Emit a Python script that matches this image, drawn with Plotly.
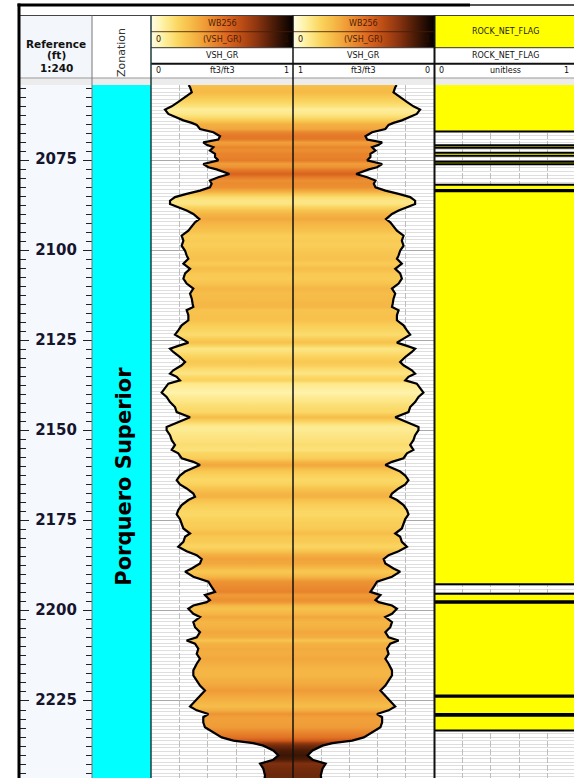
import plotly.graph_objects as go

# ---------------- data ----------------
depth = [2054.0, 2054.6, 2056.0, 2057.4, 2058.75, 2059.9, 2060.8, 2062.0, 2062.9, 2063.8,
         2064.5, 2065.05, 2066.2, 2067.1, 2068.2, 2069.1, 2069.9, 2070.6, 2071.25, 2072.2,
         2073.1, 2074.0, 2074.9, 2075.9, 2076.8, 2077.4, 2078.7, 2079.6, 2080.5, 2081.4,
         2082.4, 2083.3, 2084.2, 2085.1, 2086.1, 2087.0, 2087.9, 2088.8, 2089.8, 2091.2,
         2092.1, 2093.2, 2094.4, 2095.8, 2097.2, 2098.6, 2100.0, 2101.3, 2102.2, 2103.6,
         2105.0, 2106.3, 2107.7, 2109.1, 2110.5, 2111.9, 2113.3, 2114.7, 2115.6, 2116.5,
         2117.9, 2119.3, 2120.7, 2122.1, 2123.3, 2124.4, 2125.5, 2126.4, 2127.2, 2128.1,
         2129.5, 2130.9, 2131.8, 2133.2, 2134.1, 2135.0, 2136.0, 2136.9, 2138.3, 2139.4,
         2140.6, 2142.0, 2143.4, 2144.8, 2146.2, 2147.1, 2148.0, 2148.9, 2149.8, 2151.2,
         2152.6, 2153.9, 2155.3, 2156.25, 2157.6, 2158.6, 2159.5, 2160.6, 2161.3, 2162.4,
         2163.7, 2164.9, 2166.0, 2167.4, 2168.3, 2169.2, 2170.6, 2172.0, 2173.2, 2174.5,
         2175.7, 2177.1, 2178.5, 2179.4, 2180.8, 2182.2, 2183.4, 2184.5, 2185.6, 2186.8,
         2188.2, 2189.1, 2190.5, 2191.9, 2193.3, 2194.7, 2195.6, 2197.0, 2197.55, 2198.5,
         2199.4, 2200.8, 2201.7, 2203.1, 2204.5, 2205.9, 2207.3, 2208.2, 2209.1, 2210.5,
         2211.9, 2213.3, 2214.65, 2216.5, 2217.9, 2219.3, 2220.7, 2222.1, 2223.5, 2224.9,
         2226.5, 2227.6, 2228.6, 2229.5, 2230.9, 2232.3, 2233.7, 2235.1, 2236.0, 2236.7,
         2237.4, 2238.75, 2240.1, 2241.3, 2242.4, 2243.8, 2245.7, 2246.4]
vsh_gr = [0.265, 0.275, 0.287, 0.24, 0.19, 0.146, 0.099, 0.122, 0.169, 0.228,
          0.287, 0.322, 0.345, 0.439, 0.486, 0.474, 0.368, 0.392, 0.439, 0.415,
          0.451, 0.451, 0.474, 0.368, 0.404, 0.462, 0.552, 0.474, 0.415, 0.427,
          0.415, 0.345, 0.251, 0.169, 0.134, 0.134, 0.192, 0.251, 0.298, 0.34,
          0.31, 0.287, 0.263, 0.216, 0.228, 0.216, 0.24, 0.251, 0.263, 0.228,
          0.275, 0.24, 0.228, 0.251, 0.298, 0.275, 0.287, 0.293, 0.298, 0.251,
          0.263, 0.263, 0.216, 0.192, 0.169, 0.216, 0.263, 0.192, 0.134, 0.157,
          0.204, 0.24, 0.216, 0.157, 0.134, 0.181, 0.204, 0.122, 0.099, 0.075,
          0.11, 0.134, 0.169, 0.181, 0.275, 0.216, 0.157, 0.11, 0.11, 0.134,
          0.146, 0.169, 0.146, 0.192, 0.216, 0.298, 0.345, 0.275, 0.24, 0.204,
          0.181, 0.204, 0.251, 0.298, 0.31, 0.263, 0.216, 0.192, 0.181, 0.204,
          0.216, 0.228, 0.275, 0.24, 0.228, 0.192, 0.251, 0.322, 0.357, 0.345,
          0.287, 0.24, 0.298, 0.404, 0.427, 0.451, 0.38, 0.415, 0.392, 0.298,
          0.263, 0.298, 0.345, 0.298, 0.31, 0.345, 0.322, 0.251, 0.31, 0.333,
          0.322, 0.345, 0.322, 0.298, 0.298, 0.322, 0.345, 0.38, 0.345, 0.31,
          0.275, 0.322, 0.404, 0.368, 0.368, 0.38, 0.439, 0.498, 0.58, 0.72,
          0.791, 0.861, 0.897, 0.861, 0.768, 0.791, 0.803, 0.80]

flag_top = [2053.98, 2066.9, 2070.7, 2071.4, 2072.8, 2073.6, 2075.3, 2076.0, 2081.7, 2083.1,
            2083.5, 2192.6, 2195.2, 2197.3, 2197.7, 2223.5, 2223.8, 2228.6, 2229.1, 2233.2]
flag_val = [1, 0, 1, 0, 1, 0, 1, 0, 1, 0, 1, 0, 1, 0, 1, 0, 1, 0, 1, 0]

zone_names = ["Porquero Superior"]
zone_top = [2053.98]
zone_base = [2271.0]

depth_labels = [2075, 2100, 2125, 2150, 2175, 2200, 2225]
view_top, view_base = 2053.98, 2246.38

# ---------------- style helpers ----------------
W, H = 574, 778
def px(x): return x / W
def py(y): return 1 - y / H

WB256 = [[0.0, '#fffbe8'], [0.06, '#fff6b8'], [0.12, '#fde98c'], [0.2, '#fad35c'],
         [0.28, '#f6bc48'], [0.36, '#f1a23a'], [0.45, '#e8832c'], [0.55, '#d9621e'],
         [0.65, '#b74a14'], [0.75, '#8a3410'], [0.85, '#521e08'], [0.95, '#1e0a02'],
         [1.0, '#050000']]

def hex2rgb(h):
    h = h.lstrip('#')
    return [int(h[i:i + 2], 16) for i in (0, 2, 4)]

def wb_color(v):
    v = min(max(v, 0), 1)
    for (a, ca), (b, cb) in zip(WB256[:-1], WB256[1:]):
        if a <= v <= b:
            t = (v - a) / (b - a) if b > a else 0
            r1, r2 = hex2rgb(ca), hex2rgb(cb)
            c = [round(r1[k] + (r2[k] - r1[k]) * t) for k in range(3)]
            return 'rgb(%d,%d,%d)' % tuple(c)
    return WB256[-1][1]

d0, d1 = depth[0], depth[-1]
grad = [[(d - d0) / (d1 - d0), wb_color(v)] for d, v in zip(depth, vsh_gr)]
grad[0][0] = 0.0
grad[-1][0] = 1.0

DATA_DOM = [0, py(85)]
FONT = "DejaVu Sans"

fig = go.Figure()

# depth labels
fig.add_trace(go.Scatter(x=[0.5] * len(depth_labels), y=depth_labels,
                         text=['<b>%d</b>' % d for d in depth_labels], mode='text',
                         textfont=dict(family=FONT, size=15, color='#15152e'),
                         xaxis='x', yaxis='y', hoverinfo='skip', showlegend=False))

# zonation
for name, zt, zb in zip(zone_names, zone_top, zone_base):
    fig.add_trace(go.Scatter(x=[0, 1, 1, 0, 0], y=[zt, zt, zb, zb, zt], fill='toself',
                             fillcolor='#00ffff', line=dict(width=0), mode='lines',
                             xaxis='x2', yaxis='y2', hoverinfo='skip', showlegend=False))

# VSH fills and curves (track 1 and mirrored track 2)
for xa, ya in (('x3', 'y3'), ('x4', 'y4')):
    fig.add_trace(go.Scatter(x=vsh_gr + [1, 1], y=depth + [d1, d0], fill='toself',
                             fillgradient=dict(type='vertical', colorscale=grad, start=d0, stop=d1),
                             line=dict(width=0), mode='lines', xaxis=xa, yaxis=ya,
                             hoverinfo='skip', showlegend=False))
    fig.add_trace(go.Scatter(x=vsh_gr, y=depth, mode='lines',
                             line=dict(color='black', width=2.2), xaxis=xa, yaxis=ya,
                             hoverinfo='skip', showlegend=False))

# rock net flag
fx, fy = [], []
bots = flag_top[1:] + [view_base]
for t, b, v in zip(flag_top, bots, flag_val):
    fx += [v, v]
    fy += [t, b]
fig.add_trace(go.Scatter(x=fx, y=fy, fill='tozerox', fillcolor='#ffff00', mode='lines',
                         line=dict(color='black', width=2), xaxis='x5', yaxis='y5',
                         hoverinfo='skip', showlegend=False))

# header gradients
for xa in ('x6', 'x7'):
    fig.add_trace(go.Scatter(x=[0, 1, 1, 0, 0], y=[0, 0, 1, 1, 0], fill='toself',
                             fillgradient=dict(type='horizontal', colorscale=WB256, start=0, stop=1),
                             line=dict(width=0), mode='lines', xaxis=xa, yaxis='y6',
                             hoverinfo='skip', showlegend=False))

hidden_x = dict(showgrid=False, zeroline=False, showticklabels=False, ticks='', showline=False)
track_x = dict(showgrid=True, gridcolor='#bdbdbd', gridwidth=1, griddash='6px,2px', dtick=0.2,
               tick0=0, zeroline=False, showticklabels=False, ticks='', showline=False)
track_y = dict(domain=DATA_DOM, matches='y', showgrid=True, gridcolor='#a9a9a9', gridwidth=1,
               dtick=25, tick0=2075, zeroline=False, showticklabels=False, ticks='',
               minor=dict(dtick=1, tick0=2075, showgrid=True, gridcolor='#dedede', gridwidth=1))

fig.update_layout(
    width=W, height=H, autosize=False, margin=dict(l=0, r=0, t=0, b=0),
    paper_bgcolor='white', plot_bgcolor='rgba(0,0,0,0)', showlegend=False,
    xaxis=dict(domain=[px(20), px(92)], range=[0, 1], anchor='y', **hidden_x),
    yaxis=dict(domain=DATA_DOM, range=[view_base, view_top], anchor='x', side='right',
               showgrid=False, zeroline=False, showticklabels=False,
               tickmode='array', tickvals=depth_labels, ticks='inside', ticklen=9,
               tickwidth=1.3, tickcolor='#222', showline=True, linecolor='#777', linewidth=1,
               mirror='ticks',
               minor=dict(dtick=2.5, tick0=2075, ticks='inside', ticklen=6, tickwidth=1.3,
                          tickcolor='#222', showgrid=False)),
    xaxis2=dict(domain=[px(92), px(151)], range=[0, 1], anchor='y2', **hidden_x),
    yaxis2=dict(domain=DATA_DOM, matches='y', anchor='x2', showgrid=False, zeroline=False,
                showticklabels=False, ticks=''),
    xaxis3=dict(domain=[px(151), px(293)], range=[0, 1], anchor='y3', **track_x),
    yaxis3=dict(anchor='x3', **track_y),
    xaxis4=dict(domain=[px(293), px(434)], range=[1, 0], anchor='y4', **track_x),
    yaxis4=dict(anchor='x4', **track_y),
    xaxis5=dict(domain=[px(434), 1], range=[0, 140 / 142], anchor='y5', **track_x),
    yaxis5=dict(anchor='x5', **track_y),
    xaxis6=dict(domain=[px(151), px(293)], range=[0, 1], anchor='y6', **hidden_x),
    xaxis7=dict(domain=[px(293), px(434)], range=[0, 1], anchor='y6', **hidden_x),
    yaxis6=dict(domain=[py(47.7), py(16)], range=[0, 1], anchor='x6', **hidden_x),
)

shapes = []
def rect(x0, y0, x1, y1, color, layer='below', line=None):
    shapes.append(dict(type='rect', xref='paper', yref='paper', x0=px(x0), x1=px(x1),
                       y0=py(y1), y1=py(y0), fillcolor=color, layer=layer,
                       line=dict(width=0) if line is None else line))
def hline(y, x0, x1, color, w=1):
    shapes.append(dict(type='line', xref='paper', yref='paper', x0=px(x0), x1=px(x1),
                       y0=py(y), y1=py(y), line=dict(color=color, width=w), layer='above'))
def vline(x, y0, y1, color, w=1):
    shapes.append(dict(type='line', xref='paper', yref='paper', x0=px(x), x1=px(x),
                       y0=py(y0), y1=py(y1), line=dict(color=color, width=w), layer='above'))

# backgrounds
rect(20, 85, 92, 778, '#f5f8fd')
rect(20, 16, 92, 78, '#f3f6fb')
rect(435, 16, 576, 47.7, '#ffff00', layer='above')
rect(20, 78, 576, 85, '#ececec', layer='above')

# header lines
hline(15.5, 20, 574, '#444', 1)
hline(31.7, 151, 434, 'rgba(70,30,5,0.85)', 1)
hline(47.7, 151, 574, '#333', 1)
hline(63.7, 151, 574, '#111', 2)
hline(78, 20, 574, '#999', 1)
# separators
vline(92, 15.5, 778, '#777', 1)
vline(151, 15.5, 778, '#1e3c3c', 1.5)
vline(293, 15.5, 778, '#111', 1.5)
vline(434.5, 15.5, 778, '#111', 2)
# outer frame
hline(5, 17.5, 470, '#000', 3)
hline(5, 470, 574, '#555', 2)
vline(19, 3.5, 778, '#000', 3)

fig.update_layout(shapes=shapes)

ann = []
def txt(x, y, s, size=8, color='#111', bold=False, angle=0, anchor='center'):
    ann.append(dict(x=px(x), y=py(y), xref='paper', yref='paper', text=('<b>%s</b>' % s) if bold else s,
                    showarrow=False, font=dict(family=FONT, size=size, color=color),
                    xanchor=anchor, yanchor='middle', textangle=angle))

txt(56, 44, 'Reference', 10.5, '#111', True)
txt(56, 55, '(ft)', 10.5, '#111', True)
txt(56, 68, '1:240', 10.5, '#111', True)
txt(122, 53, 'Zonation', 11, '#333', False, -90)

for c, lft, rgt, top0, top1 in ((222, 158, 286, '0', '1'), (363, 300, 427, '1', '0')):
    txt(c, 24, 'WB256', 8, '#4a1e05')
    txt(lft, 40, '0', 8, '#2a1000')
    txt(c, 40, '(VSH_GR)', 8, '#4a1e05')
    txt(rgt, 40, '1', 8, '#2a1000')
    txt(c, 55.5, 'VSH_GR', 8, '#111')
    txt(lft, 71, top0, 8, '#111')
    txt(c, 71, 'ft3/ft3', 8, '#111')
    txt(rgt, 71, top1, 8, '#111')

txt(505, 31, 'ROCK_NET_FLAG', 8, '#222')
txt(505, 55.5, 'ROCK_NET_FLAG', 8, '#111')
txt(441, 71, '0', 8, '#111')
txt(505, 71, 'unitless', 8, '#111')
txt(566, 71, '1', 8, '#111')

for name, zt, zb in zip(zone_names, zone_top, zone_base):
    ann.append(dict(x=0.54, y=(zt + zb) / 2, xref='x2', yref='y2', text='<b>%s</b>' % name,
                    showarrow=False, textangle=-90,
                    font=dict(family=FONT, size=21, color='#000'),
                    xanchor='center', yanchor='middle'))

fig.update_layout(annotations=ann)
fig.write_html("out.html", config={'displayModeBar': False},
               post_script="document.body.style.margin='0';document.body.style.overflow='hidden';")
